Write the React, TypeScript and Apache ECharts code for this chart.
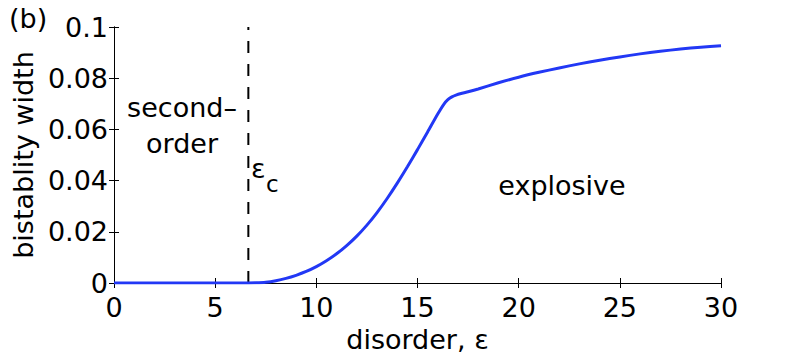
import React, { useEffect, useRef } from "react";
import * as echarts from "echarts";

const epsilon = [0, 2, 4, 6, 6.64, 7, 7.5, 8, 8.5, 9, 9.5, 10, 10.5, 11, 11.5, 12, 12.5, 13, 13.5, 14, 14.5, 15, 15.5, 16, 16.3, 16.5, 16.7, 16.9, 17.2, 17.5, 18, 19, 20, 21, 22, 23, 24, 25, 26, 27, 28, 29, 30];
const bistabilityWidth = [0, 0, 0, 0, 0, 0.00005, 0.0003, 0.0009, 0.0018, 0.0030, 0.0045, 0.0064, 0.0087, 0.0114, 0.0146, 0.0183, 0.0226, 0.0275, 0.0330, 0.0390, 0.0454, 0.0521, 0.0590, 0.0660, 0.0698, 0.0716, 0.0727, 0.0734, 0.0741, 0.0747, 0.0758, 0.0782, 0.0804, 0.0823, 0.0840, 0.0856, 0.0870, 0.0883, 0.0895, 0.0905, 0.0914, 0.0921, 0.0927];
const epsC = 6.64;
const criticalLineY = [0, 0.1];
const xTicks = { min: 0, max: 30, interval: 5 };
const yTicks = { min: 0, max: 0.1, interval: 0.02 };

const FONT = '"DejaVu Sans", "Liberation Sans", Arial, sans-serif';
const FS = 27;

export default function App() {
  const ref = useRef<HTMLDivElement>(null);
  useEffect(() => {
    if (!ref.current) return;
    const chart = echarts.init(ref.current, undefined, { renderer: "svg" });
    const axisLine = { show: true, lineStyle: { color: "#000", width: 1 } };
    const axisTick = { show: true, inside: true, length: 5, lineStyle: { color: "#000", width: 1 } };
    const labelStyle = { color: "#000", fontSize: FS, fontFamily: FONT };
    chart.setOption({
      animation: false,
      backgroundColor: "#fff",
      grid: { left: 114, right: 76, top: 27, bottom: 80, containLabel: false },
      xAxis: [
        {
          type: "value", ...xTicks, position: "bottom",
          axisLine, axisTick,
          axisLabel: { ...labelStyle, margin: 11, formatter: (v: number) => String(v) },
          splitLine: { show: false },
          name: "disorder, ε", nameLocation: "middle", nameGap: 43,
          nameTextStyle: { ...labelStyle },
        },
        {
          type: "value", ...xTicks, position: "top",
          axisLine, axisTick, axisLabel: { show: false }, splitLine: { show: false },
        },
      ],
      yAxis: [
        {
          type: "value", ...yTicks, position: "left",
          axisLine, axisTick,
          axisLabel: { ...labelStyle, margin: 6, formatter: (v: number) => (v === 0 ? "0" : String(+v.toFixed(2))) },
          splitLine: { show: false },
          name: "bistablity width", nameLocation: "middle", nameGap: 74, nameRotate: 90,
          nameTextStyle: { ...labelStyle },
        },
        {
          type: "value", ...yTicks, position: "right",
          axisLine, axisTick, axisLabel: { show: false }, splitLine: { show: false },
        },
      ],
      series: [
        {
          type: "line",
          data: criticalLineY.map((y) => [epsC, y]),
          symbol: "none",
          lineStyle: { color: "#000", width: 2, type: [12, 11] },
          z: 2,
        },
        {
          type: "line",
          data: epsilon.map((x, i) => [x, bistabilityWidth[i]]),
          symbol: "none",
          smooth: 0.25,
          lineStyle: { color: "#2238f5", width: 3 },
          z: 3,
        },
      ],
      graphic: [
        { type: "text", left: 9, top: 5, style: { text: "(b)", fill: "#000", font: `${FS}px ${FONT}` } },
        { type: "text", x: 182, y: 107, style: { text: "second–", fill: "#000", font: `${FS}px ${FONT}`, align: "center", verticalAlign: "middle" } },
        { type: "text", x: 182, y: 143, style: { text: "order", fill: "#000", font: `${FS}px ${FONT}`, align: "center", verticalAlign: "middle" } },
        { type: "text", x: 251, y: 168, style: { text: "ε", fill: "#000", font: `${FS}px ${FONT}`, align: "left", verticalAlign: "middle" } },
        { type: "text", x: 266, y: 184, style: { text: "c", fill: "#000", font: `23px ${FONT}`, align: "left", verticalAlign: "middle" } },
        { type: "text", x: 562, y: 185, style: { text: "explosive", fill: "#000", font: `${FS}px ${FONT}`, align: "center", verticalAlign: "middle" } },
      ],
    });
    return () => chart.dispose();
  }, []);
  return <div ref={ref} style={{ position: "fixed", left: 0, top: 0, width: 797, height: 363 }} />;
}
